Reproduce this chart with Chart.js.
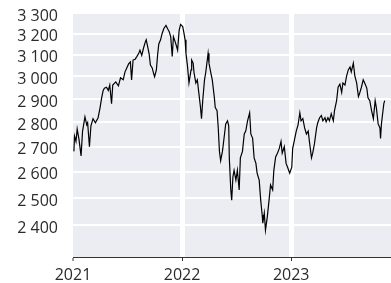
<!DOCTYPE html>
<html>
<head>
<meta charset="utf-8">
<script src="https://cdn.jsdelivr.net/npm/chart.js@4/dist/chart.umd.min.js"></script>
<style>
  html, body { margin: 0; padding: 0; background: #fff; }
  #wrap { width: 391px; height: 283px; position: relative; }
</style>
</head>
<body>
<div id="wrap"><canvas id="chart"></canvas></div>
<script>
// index level (roughly weekly)
const dates = [
  "2021-01-04","2021-01-06","2021-01-11","2021-01-15","2021-01-21","2021-01-28","2021-02-02","2021-02-10",
  "2021-02-16","2021-02-19","2021-02-25","2021-03-02","2021-03-09","2021-03-17","2021-03-26","2021-04-01",
  "2021-04-07","2021-04-12","2021-04-16","2021-04-23","2021-04-29","2021-05-04","2021-05-10","2021-05-14",
  "2021-05-24","2021-06-02","2021-06-09","2021-06-18","2021-06-24","2021-06-30","2021-07-06","2021-07-12",
  "2021-07-16","2021-07-21","2021-07-28","2021-08-03","2021-08-09","2021-08-13","2021-08-19","2021-08-25",
  "2021-08-31","2021-09-03","2021-09-08","2021-09-13","2021-09-17","2021-09-23","2021-09-28","2021-10-01",
  "2021-10-07","2021-10-11","2021-10-15","2021-10-21","2021-10-26","2021-11-01","2021-11-08","2021-11-15",
  "2021-11-19","2021-11-24","2021-11-29","2021-12-03","2021-12-09","2021-12-14","2021-12-17","2021-12-22",
  "2021-12-27","2022-01-03","2022-01-07","2022-01-11","2022-01-14","2022-01-19","2022-01-24","2022-01-31",
  "2022-02-02","2022-02-07","2022-02-10","2022-02-16","2022-02-21","2022-02-25","2022-03-03","2022-03-07",
  "2022-03-11","2022-03-17","2022-03-21","2022-03-29","2022-04-01","2022-04-07","2022-04-12","2022-04-19",
  "2022-04-22","2022-04-28","2022-05-02","2022-05-06","2022-05-10","2022-05-16","2022-05-20","2022-05-27",
  "2022-06-02","2022-06-06","2022-06-08","2022-06-13","2022-06-16","2022-06-20","2022-06-24","2022-06-30",
  "2022-07-05","2022-07-11","2022-07-15","2022-07-22","2022-07-28","2022-08-02","2022-08-08","2022-08-15",
  "2022-08-19","2022-08-25","2022-08-30","2022-09-05","2022-09-09","2022-09-16","2022-09-21","2022-09-26",
  "2022-09-28","2022-10-03","2022-10-07","2022-10-13","2022-10-19","2022-10-24","2022-10-31","2022-11-04",
  "2022-11-10","2022-11-16","2022-11-22","2022-11-28","2022-12-02","2022-12-09","2022-12-15","2022-12-20",
  "2022-12-27","2023-01-03","2023-01-06","2023-01-13","2023-01-18","2023-01-24","2023-01-30","2023-02-03",
  "2023-02-09","2023-02-15","2023-02-21","2023-02-27","2023-03-03","2023-03-10","2023-03-14","2023-03-20",
  "2023-03-27","2023-03-31","2023-04-06","2023-04-12","2023-04-17","2023-04-24","2023-04-28","2023-05-04",
  "2023-05-09","2023-05-15","2023-05-22","2023-05-26","2023-06-02","2023-06-07","2023-06-13","2023-06-19",
  "2023-06-23","2023-06-30","2023-07-05","2023-07-11","2023-07-17","2023-07-21","2023-07-28","2023-08-02",
  "2023-08-08","2023-08-14","2023-08-18","2023-08-24","2023-08-30","2023-09-04","2023-09-11","2023-09-15",
  "2023-09-21","2023-09-27","2023-10-03","2023-10-09","2023-10-13","2023-10-19","2023-10-25","2023-10-27",
  "2023-10-30","2023-11-03","2023-11-07","2023-11-10"
];
const values = [
  2681,2743,2721,2773,2730,2663,2764,2824,
  2790,2799,2700,2786,2816,2799,2820,2859,
  2906,2938,2948,2952,2938,2962,2880,2962,
  2976,2958,2994,2985,3021,3039,3057,3066,
  2985,3075,3079,3092,3106,3121,3097,3131,
  3160,3170,3136,3101,3052,3039,3012,2999,
  3030,3097,3150,3170,3199,3224,3239,3219,
  3209,3184,3092,3184,3160,3136,3121,3214,
  3244,3234,3204,3170,3106,3048,2971,3030,
  3075,3061,3017,2971,2985,2938,2871,2816,
  2893,2985,3017,3106,3061,3017,2985,2906,
  2863,2850,2777,2681,2644,2681,2721,2794,
  2807,2786,2655,2530,2492,2580,2606,2568,
  2606,2530,2655,2681,2752,2764,2807,2841,
  2752,2734,2655,2633,2595,2568,2492,2437,
  2407,2444,2382,2429,2492,2549,2530,2606,
  2659,2674,2692,2721,2674,2700,2633,2618,
  2595,2618,2692,2734,2764,2790,2841,2807,
  2816,2777,2752,2764,2721,2655,2674,2713,
  2777,2799,2820,2829,2807,2820,2803,2820,
  2807,2837,2807,2850,2893,2952,2966,2929,
  2971,2962,2999,3030,3043,3021,3061,3003,
  2971,2911,2925,2952,2985,2971,2948,2906,
  2893,2850,2816,2893,2863,2794,2777,2734,
  2794,2837,2880,2893
];
const yTicks = [2400, 2500, 2600, 2700, 2800, 2900, 3000, 3100, 3200, 3300];
const years = ["2021", "2022", "2023"];

const DAY = 86400000;
const start = Date.UTC(2021, 0, 1);
const toDays = s => { const p = s.split("-").map(Number); return (Date.UTC(p[0], p[1] - 1, p[2]) - start) / DAY; };
const yearStarts = years.map(y => toDays(y + "-01-01"));
const points = dates.map((d, i) => ({ x: toDays(d), y: values[i] }));
const fmt = v => String(v).replace(/\B(?=(\d{3})+(?!\d))/g, " ");

const font = { family: "'Open Sans', sans-serif", size: 16 };
const textColor = "#2b2b2b";

const plotBg = {
  id: "plotBg",
  beforeDraw(chart) {
    const a = chart.chartArea, c = chart.ctx;
    c.save();
    c.fillStyle = "#ecedf2";
    c.fillRect(a.left, a.top, a.right - a.left, a.bottom - a.top);
    c.restore();
  }
};

new Chart(document.getElementById("chart"), {
  type: "line",
  data: {
    datasets: [{
      data: points,
      borderColor: "#000",
      borderWidth: 1.2,
      pointRadius: 0,
      tension: 0,
      fill: false
    }]
  },
  options: {
    responsive: true,
    maintainAspectRatio: false,
    animation: false,
    layout: { padding: { top: 13, right: 0, left: 0, bottom: 0 } },
    plugins: { legend: { display: false }, tooltip: { enabled: false } },
    scales: {
      x: {
        type: "linear",
        min: 0,
        max: 1064,
        afterBuildTicks: s => { s.ticks = yearStarts.map(v => ({ value: v })); },
        afterFit: s => { s.height = 26; s.paddingLeft = 0; s.paddingRight = 0; },
        ticks: {
          callback: (v, i) => years[i],
          font: font,
          color: textColor,
          padding: 5,
          maxRotation: 0
        },
        grid: {
          color: "#fff",
          lineWidth: c => (c.tick && c.tick.value === 0) ? 0 : 5,
          drawTicks: true,
          tickLength: 4,
          tickColor: "#333",
          tickWidth: 1
        },
        border: { display: true, color: "#333", width: 1 }
      },
      y: {
        type: "logarithmic",
        min: 2288,
        max: 3300,
        afterBuildTicks: s => { s.ticks = yTicks.map(v => ({ value: v })); },
        afterFit: s => { s.width = 73; s.paddingTop = 0; s.paddingBottom = 0; },
        ticks: {
          callback: v => fmt(v),
          font: font,
          color: textColor,
          padding: 15,
          labelOffset: 3
        },
        grid: { color: "#fff", lineWidth: 2, drawTicks: false },
        border: { display: false }
      }
    }
  },
  plugins: [plotBg]
});
</script>
</body>
</html>
